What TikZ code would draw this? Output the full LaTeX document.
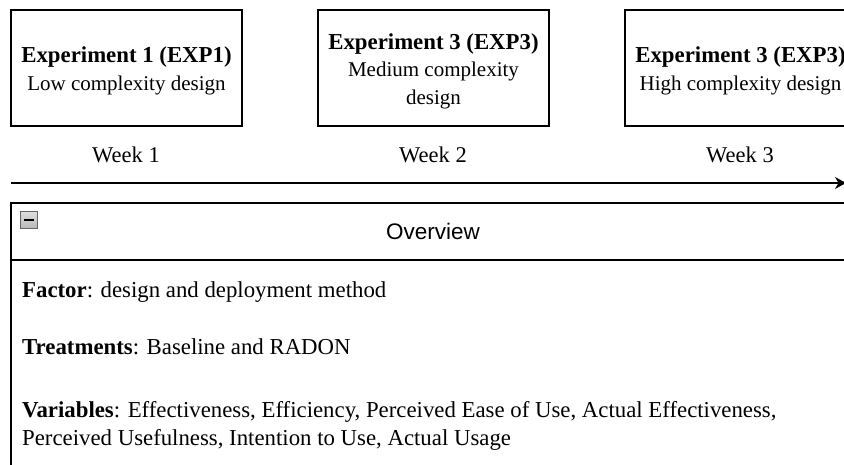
\documentclass[tikz,border=0pt]{standalone}
\usepackage{fontspec}
\setmainfont{Liberation Serif}
\newfontfamily\uisans{Liberation Sans}
\usetikzlibrary{arrows.meta}
\newcommand\boxsub{\fontsize{21}{27.5}\selectfont}
\tikzset{
  expbox/.style={draw=black, line width=1.3pt, minimum width=231pt, minimum height=116pt, inner sep=0pt},
  boxtext/.style={inner sep=0pt, align=center, font=\fontsize{22.8}{27.5}\selectfont},
  weeklabel/.style={font=\fontsize{22.5}{27}\selectfont, inner sep=0pt},
  frameline/.style={draw=black, line width=1.3pt},
  bodytext/.style={font=\fontsize{22.8}{28}\selectfont, anchor=base west, inner sep=0pt, align=left},
}
\begin{document}
\begin{tikzpicture}[x=1pt, y=-1pt]
\useasboundingbox (0,0) rectangle (844,465);
\clip (0,0) rectangle (844,465);

% experiment boxes along the timeline
\node[expbox] (exp1) at (126.5,68) {};
\node[expbox] (exp2) at (433.5,68) {};
\node[expbox] (exp3) at (740.5,68) {};
\node[boxtext] (exp1t) at ([yshift=-3pt]exp1.center) {\textbf{Experiment 1 (EXP1)}\\\boxsub Low complexity design};
\node[boxtext] (exp2t) at ([yshift=-3pt]exp2.center) {\textbf{Experiment 3 (EXP3)}\\\boxsub Medium complexity\\\boxsub design};
\node[boxtext] (exp3t) at ([yshift=-3pt]exp3.center) {\textbf{Experiment 3 (EXP3)}\\\boxsub High complexity design};

% week labels
\node[weeklabel] (w1) at (126,155) {Week 1};
\node[weeklabel] (w2) at (433,155) {Week 2};
\node[weeklabel] (w3) at (740,155) {Week 3};

% timeline arrow
\coordinate (tstart) at (11,183);
\coordinate (tend) at (846,183);
\draw[line width=1.3pt, -{Stealth[length=11pt, width=12pt, inset=3.5pt]}] (tstart) -- (tend);

% overview panel
\coordinate (ovtl) at (11,203);
\coordinate (ovbr) at (855,480);
\draw[frameline] (ovtl) rectangle (ovbr);
\coordinate (hdl) at (11,260);
\coordinate (hdr) at (855,260);
\draw[frameline] (hdl) -- (hdr);
\node[font=\uisans\fontsize{22.5}{27}\selectfont, inner sep=0pt] (ovtitle) at (433,231) {Overview};

% collapse icon
\shade[top color=gray!25, bottom color=gray!55] (20.5,211.5) rectangle (37,228);
\draw[draw=gray!80!black, line width=0.6pt] (20.5,211.5) rectangle (37,228);
\fill[black] (23.5,218.7) rectangle (34,221);

% panel body
\node[bodytext] (factor) at (22,298) {\textbf{Factor}: design and deployment method};
\node[bodytext] (treat) at (22,355) {\textbf{Treatments}: Baseline and RADON};
\node[bodytext] (vars) at (22,445) {\textbf{Variables}: Effectiveness, Efficiency, Perceived Ease of Use, Actual Effectiveness,\\Perceived Usefulness, Intention to Use, Actual Usage};
\end{tikzpicture}
\end{document}
